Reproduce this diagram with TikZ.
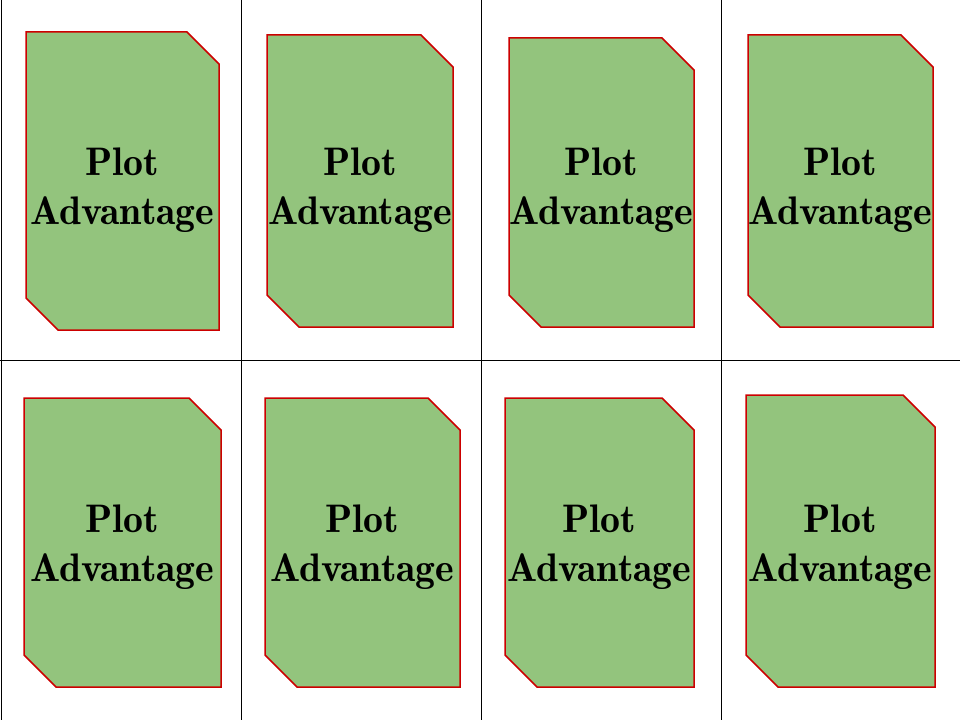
\documentclass[tikz,border=0pt]{standalone}
\usepackage{tikz}
\definecolor{cardgreen}{RGB}{147,196,125}
\definecolor{cardred}{RGB}{204,0,0}
\tikzset{
  card/.style={draw=cardred, fill=cardgreen, line width=1.5bp, line join=miter},
  cardtext/.style={align=center, inner sep=0pt, font=\fontsize{40}{49}\fontseries{b}\selectfont},
  cellline/.style={draw=black, line width=1bp}
}
\begin{document}
\begin{tikzpicture}[x=1bp,y=-1bp]
\useasboundingbox (0,0) rectangle (960,720);
% cell lines
\foreach \gx in {1,241,481,721}
  \draw[cellline] (\gx,0) -- (\gx,720);
\draw[cellline] (0,360) -- (960,360);
% cards: left/top/right/bottom/text height
\foreach \l/\t/\r/\b/\ty [count=\i] in {26/32/219/330/190, 267/35/453/327/190, 509/38/694/327/190, 748/35/933/327/190, 24/398/221/687/547, 265/398/460/687/547, 505/398/694/687/547, 746/395/935/687/547}{
  \draw[card] (\l,\t) -- (\r-32,\t) -- (\r,\t+32) -- (\r,\b) -- (\l+32,\b) -- (\l,\b-32) -- cycle;
  \node[cardtext] (plot\i) at ({(\l+\r)/2},\ty) {Plot\\Advantage};
}
\end{tikzpicture}
\end{document}
